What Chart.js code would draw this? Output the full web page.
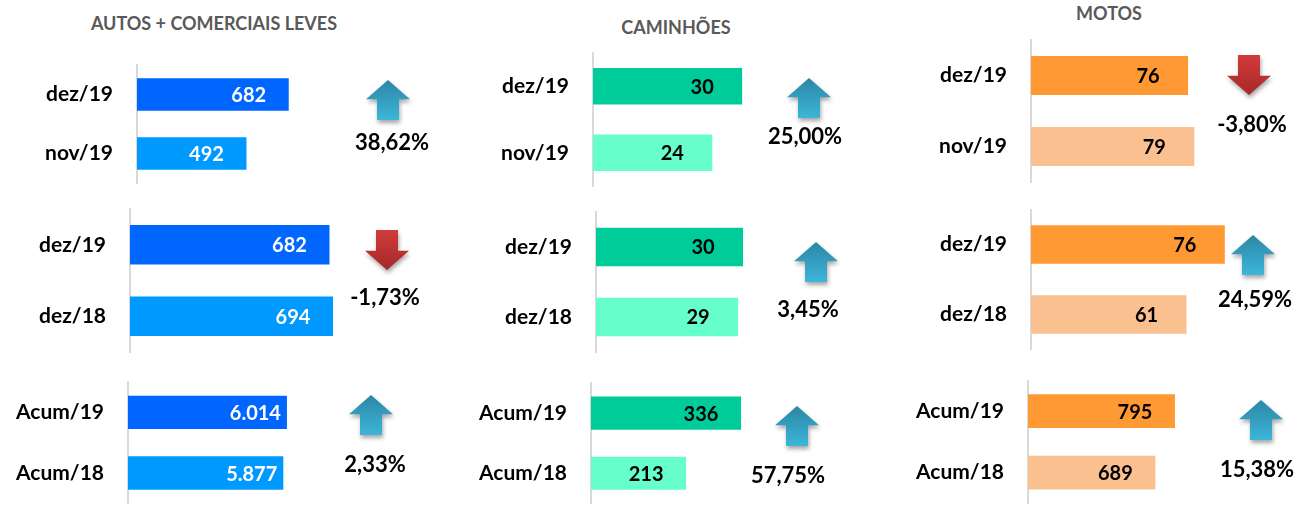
<!DOCTYPE html>
<html>
<head>
<meta charset="utf-8">
<script src="https://cdn.jsdelivr.net/npm/chart.js@4.4.1/dist/chart.umd.min.js"></script>
<style>
    body { margin: 0; width: 1298px; height: 517px; overflow: hidden; background: #fff; position: relative; font-family: Lato, sans-serif; }
    canvas { position: absolute; left: 0; top: 0; }
    .title { position: absolute; font-weight: 700; font-size: 18px; color: #595959; transform: translate(-50%, -50%); white-space: nowrap; }
</style>
</head>
<body>
<script>
const groupTitles = ['AUTOS + COMERCIAIS LEVES', 'CAMINHÕES', 'MOTOS']
const periodLabels = [
    ['dez/19', 'nov/19'],
    ['dez/19', 'dez/18'],
    ['Acum/19', 'Acum/18']
]
// [mes, dezembro, acumulado] -> [atual, anterior]
const autosValues = [[682, 492], [682, 694], [6014, 5877]]
const caminhoesValues = [[30, 24], [30, 29], [336, 213]]
const motosValues = [[76, 79], [76, 61], [795, 689]]

const groups = [autosValues, caminhoesValues, motosValues]
const barColors = [['#0066FF', '#0099FF'], ['#00CC99', '#66FFCC'], ['#FF9933', '#FAC090']]
const valueColors = ['#FFFFFF', '#000000', '#000000']
const titlePos = [[214, 23], [676, 27], [1109, 13]]

// posicao de cada painel [linha][coluna]
const layout = [
    [
        { x: 137, top: 65, bottom: 183, w: 178, max: 800, ax: 388, ay: 100, px: 392, py: 143 },
        { x: 593, top: 53, bottom: 186, w: 174, max: 35, ax: 809, ay: 98, px: 805, py: 137 },
        { x: 1031, top: 40, bottom: 182, w: 186, max: 90, ax: 1249, ay: 75, px: 1252, py: 125 }
    ],
    [
        { x: 130, top: 209, bottom: 352, w: 234, max: 800, ax: 387, ay: 250, px: 385, py: 298 },
        { x: 596, top: 212, bottom: 352, w: 171.5, max: 35, ax: 816, ay: 262, px: 808, py: 310 },
        { x: 1031, top: 209.5, bottom: 349.5, w: 204, max: 80, ax: 1253, ay: 255, px: 1255, py: 300 }
    ],
    [
        { x: 128, top: 382, bottom: 524, w: 185, max: 7000, ax: 371, ay: 415, px: 375, py: 465 },
        { x: 591, top: 383, bottom: 524, w: 178.6, max: 400, ax: 797, ay: 426, px: 788, py: 476 },
        { x: 1028, top: 380.5, bottom: 520.5, w: 166.4, max: 900, ax: 1261, ay: 420, px: 1257, py: 470 }
    ]
]

function fmt(v) {
    return String(v).replace(/\B(?=(\d{3})+(?!\d))/g, '.')
}

function variation(a, b) {
    return (a / b - 1) * 100
}

function drawArrow(ctx, cx, cy, up) {
    const w = 44, h = 40
    const shaft = w * 0.5, head = h * 0.48
    const t = cy - h / 2, b = cy + h / 2, l = cx - w / 2, r = cx + w / 2
    ctx.save()
    ctx.beginPath()
    if (up) {
        ctx.moveTo(cx, t)
        ctx.lineTo(r, t + head)
        ctx.lineTo(cx + shaft / 2, t + head)
        ctx.lineTo(cx + shaft / 2, b)
        ctx.lineTo(cx - shaft / 2, b)
        ctx.lineTo(cx - shaft / 2, t + head)
        ctx.lineTo(l, t + head)
    } else {
        ctx.moveTo(cx, b)
        ctx.lineTo(r, b - head)
        ctx.lineTo(cx + shaft / 2, b - head)
        ctx.lineTo(cx + shaft / 2, t)
        ctx.lineTo(cx - shaft / 2, t)
        ctx.lineTo(cx - shaft / 2, b - head)
        ctx.lineTo(l, b - head)
    }
    ctx.closePath()
    const g = ctx.createLinearGradient(0, t, 0, b)
    if (up) {
        g.addColorStop(0, '#2C86A6')
        g.addColorStop(1, '#3CB6D9')
    } else {
        g.addColorStop(0, '#D23B3B')
        g.addColorStop(1, '#A62828')
    }
    ctx.fillStyle = g
    ctx.shadowColor = 'rgba(0,0,0,0.35)'
    ctx.shadowBlur = 4
    ctx.shadowOffsetX = 1
    ctx.shadowOffsetY = 3
    ctx.fill()
    ctx.restore()
}

const panelExtras = {
    id: 'panelExtras',
    afterDatasetsDraw(chart, args, opts) {
        const ctx = chart.ctx
        const meta = chart.getDatasetMeta(0)
        const values = chart.data.datasets[0].data
        ctx.save()
        ctx.font = '700 20px Lato'
        ctx.fillStyle = opts.valueColor
        ctx.textBaseline = 'middle'
        meta.data.forEach((bar, i) => {
            const txt = fmt(values[i])
            if (txt.length > 3) {
                ctx.textAlign = 'right'
                ctx.fillText(txt, bar.x - 6, bar.y + 1)
            } else {
                ctx.textAlign = 'center'
                ctx.fillText(txt, bar.x - 40, bar.y + 1)
            }
        })
        const v = variation(values[0], values[1])
        drawArrow(ctx, opts.ax, opts.ay, v >= 0)
        ctx.font = '700 22px Lato'
        ctx.fillStyle = '#000'
        ctx.textAlign = 'center'
        ctx.fillText(v.toFixed(2).replace('.', ',') + '%', opts.px, opts.py)
        ctx.restore()
    }
}

groupTitles.forEach((t, c) => {
    const d = document.createElement('div')
    d.className = 'title'
    d.textContent = t
    d.style.left = titlePos[c][0] + 'px'
    d.style.top = titlePos[c][1] + 'px'
    document.body.appendChild(d)
})

layout.forEach((row, r) => {
    row.forEach((L, c) => {
        const canvas = document.createElement('canvas')
        canvas.width = 1298
        canvas.height = 540
        document.body.appendChild(canvas)
        new Chart(canvas, {
            type: 'bar',
            data: {
                labels: periodLabels[r],
                datasets: [{
                    data: groups[c][r],
                    backgroundColor: barColors[c],
                    barPercentage: 0.55,
                    categoryPercentage: 1
                }]
            },
            options: {
                indexAxis: 'y',
                responsive: false,
                animation: false,
                layout: {
                    padding: { left: L.x - 130, top: L.top, right: 1298 - L.x - L.w, bottom: 540 - L.bottom }
                },
                plugins: {
                    legend: { display: false },
                    tooltip: { enabled: false },
                    panelExtras: { valueColor: valueColors[c], ax: L.ax, ay: L.ay, px: L.px, py: L.py }
                },
                scales: {
                    x: { display: false, min: 0, max: L.max },
                    y: {
                        afterFit: (s) => { s.width = 130 },
                        grid: { display: false, drawTicks: false },
                        border: { display: true, color: '#D9D9D9', width: 2 },
                        ticks: { color: '#000', padding: 24, font: { family: 'Lato', weight: 'bold', size: 21 } }
                    }
                }
            },
            plugins: [panelExtras]
        })
    })
})
</script>
</body>
</html>
